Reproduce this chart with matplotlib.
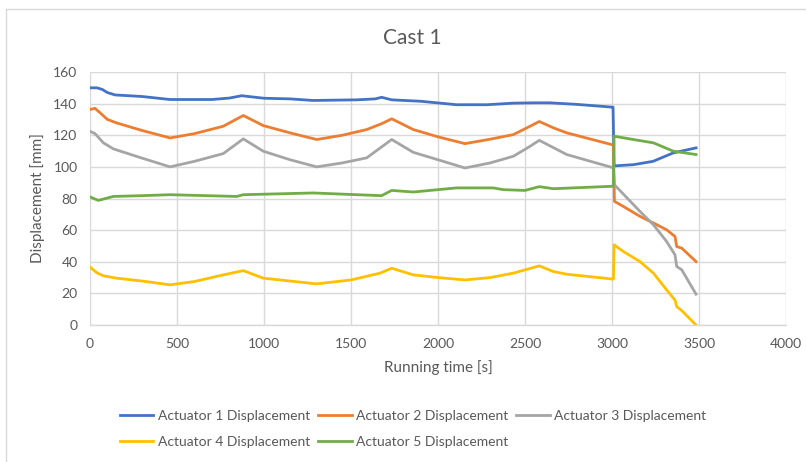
"""Cast 1 – Aktuator-Weg über Laufzeit (Excel-Nachbau)."""

import matplotlib.pyplot as plt
from matplotlib.patches import Rectangle

plt.rcParams["font.family"] = ["Lato", "DejaVu Sans"]

TEXT = "#595959"
GRID = "#d9d9d9"

# --- Daten ----------------------------------------------------------------
t_act1 = [0, 40, 70, 100, 144, 300, 460, 700, 800, 872, 1000, 1150, 1282,
          1534, 1640, 1676, 1734, 1900, 2107, 2280, 2433, 2550, 2644, 2800,
          2998, 3006, 3012, 3123, 3236, 3351, 3420, 3483]
y_act1 = [150, 150, 149, 147, 145.5, 144.5, 142.6, 142.6, 143.5, 145, 143.4,
          143, 142, 142.4, 143, 144, 142.4, 141.5, 139.3, 139.3, 140.3, 140.5,
          140.5, 139.5, 137.8, 137.8, 100.6, 101.4, 103.5, 108.8, 110.5, 112]

t_act2 = [0, 29, 60, 100, 153, 300, 460, 600, 766, 881, 996, 1150, 1303,
          1450, 1590, 1680, 1734, 1858, 2000, 2155, 2300, 2433, 2529, 2582,
          2663, 2740, 2998, 3008, 3014, 3065, 3161, 3238, 3314, 3362, 3372,
          3401, 3483]
y_act2 = [136.3, 137, 134, 130, 127.8, 123, 118.3, 121, 125.7, 132.5, 126.1,
          121.5, 117.3, 120, 123.6, 127.5, 130.4, 123.6, 119, 114.7, 117.5,
          120.4, 125.7, 128.7, 124.7, 121.5, 114.1, 114, 78.2, 75, 68.7, 64.5,
          60.2, 56, 49.6, 48.6, 40.1]

t_act3 = [0, 29, 77, 134, 300, 460, 600, 766, 881, 996, 1150, 1303, 1450,
          1590, 1734, 1858, 2000, 2155, 2300, 2433, 2529, 2582, 2740, 2998,
          3008, 3014, 3161, 3238, 3314, 3362, 3372, 3401, 3483]
y_act3 = [122.5, 121, 115.2, 111.4, 105.5, 100, 103.5, 108.4, 117.7, 109.9,
          104.5, 100, 102.5, 105.7, 117.3, 109.2, 104.5, 99.3, 102.5, 106.7,
          113, 116.8, 107.8, 99.7, 99.5, 88.7, 71.8, 63.4, 52.8, 44.4, 37,
          34.9, 19.5]

t_act4 = [0, 40, 77, 153, 300, 460, 600, 766, 881, 996, 1150, 1303, 1500,
          1667, 1734, 1858, 2000, 2155, 2300, 2433, 2582, 2663, 2740, 3008,
          3012, 3065, 3161, 3238, 3314, 3362, 3372, 3401, 3483]
y_act4 = [36.6, 33, 31.1, 29.6, 27.8, 25.4, 27.5, 31.7, 34.4, 29.6, 27.8, 26,
          28.5, 32.8, 35.9, 31.7, 30, 28.5, 30, 32.8, 37.4, 33.8, 32.1, 29,
          50.7, 46.5, 40.1, 32.8, 22.2, 15.8, 11.6, 9.1, 0]

t_act5 = [0, 48, 134, 300, 460, 843, 881, 1284, 1533, 1676, 1734, 1858, 2107,
          2318, 2375, 2500, 2582, 2663, 2998, 3008, 3012, 3123, 3238, 3353,
          3483]
y_act5 = [81, 78.8, 81.3, 81.8, 82.4, 81.3, 82.4, 83.5, 82.4, 81.8, 85.1,
          84.1, 86.7, 86.7, 85.6, 85.1, 87.5, 86.2, 87.7, 88, 119.4, 117.3,
          115.2, 109.9, 107.8]

series = [
    ("Actuator 1 Displacement", t_act1, y_act1, "#4472c4"),
    ("Actuator 2 Displacement", t_act2, y_act2, "#ed7d31"),
    ("Actuator 3 Displacement", t_act3, y_act3, "#a5a5a5"),
    ("Actuator 4 Displacement", t_act4, y_act4, "#ffc000"),
    ("Actuator 5 Displacement", t_act5, y_act5, "#70ad47"),
]

x_ticks = [0, 500, 1000, 1500, 2000, 2500, 3000, 3500, 4000]
y_ticks = [0, 20, 40, 60, 80, 100, 120, 140, 160]

# --- Plot ------------------------------------------------------------------
W, H = 806, 462
fig = plt.figure(figsize=(W / 100, H / 100), dpi=100)
ax = fig.add_axes([90 / W, 1 - 325 / H, 696 / W, 253 / H])

lines = []
for label, t, y, color in series:
    (ln,) = ax.plot(t, y, color=color, lw=2.0, label=label,
                    solid_joinstyle="round")
    lines.append(ln)

ax.set_xlim(0, 4000)
ax.set_ylim(0, 160)
ax.set_xticks(x_ticks)
ax.set_yticks(y_ticks)
ax.tick_params(length=0, pad=9, labelsize=10, colors=TEXT)
ax.grid(True, color=GRID, lw=1.0)
ax.set_axisbelow(True)
for side in ("top", "right", "left"):
    ax.spines[side].set_visible(False)
ax.spines["bottom"].set_color(GRID)
ax.spines["bottom"].set_linewidth(1.0)

fig.text(412 / W, 1 - 38 / H, "Cast 1", ha="center", va="center",
         fontsize=15, color=TEXT)
fig.text(438 / W, 1 - 368 / H, "Running time [s]", ha="center",
         va="center", fontsize=11, color=TEXT)
fig.text(38 / W, 1 - 198 / H, "Displacement [mm]", ha="center",
         va="center", rotation=90, fontsize=11, color=TEXT)

# Excel-Reihenfolge zeilenweise -> Spalten [1,4], [2,5], [3]
order = [0, 3, 1, 4, 2]
fig.legend([lines[i] for i in order], [series[i][0] for i in order],
           loc="center", bbox_to_anchor=(413 / W, 1 - 429 / H), ncol=3,
           frameon=False, fontsize=10, labelcolor=TEXT, handlelength=2.4,
           handletextpad=0.3, columnspacing=0.6, labelspacing=1.0)

# Rahmen des Diagrammbereichs
fig.patches.append(Rectangle((6 / W, -0.05), 1.1, 1 - 9 / H + 0.05,
                             transform=fig.transFigure, fill=False,
                             edgecolor=GRID, lw=1.0))

fig.savefig("out.png", dpi=100)
